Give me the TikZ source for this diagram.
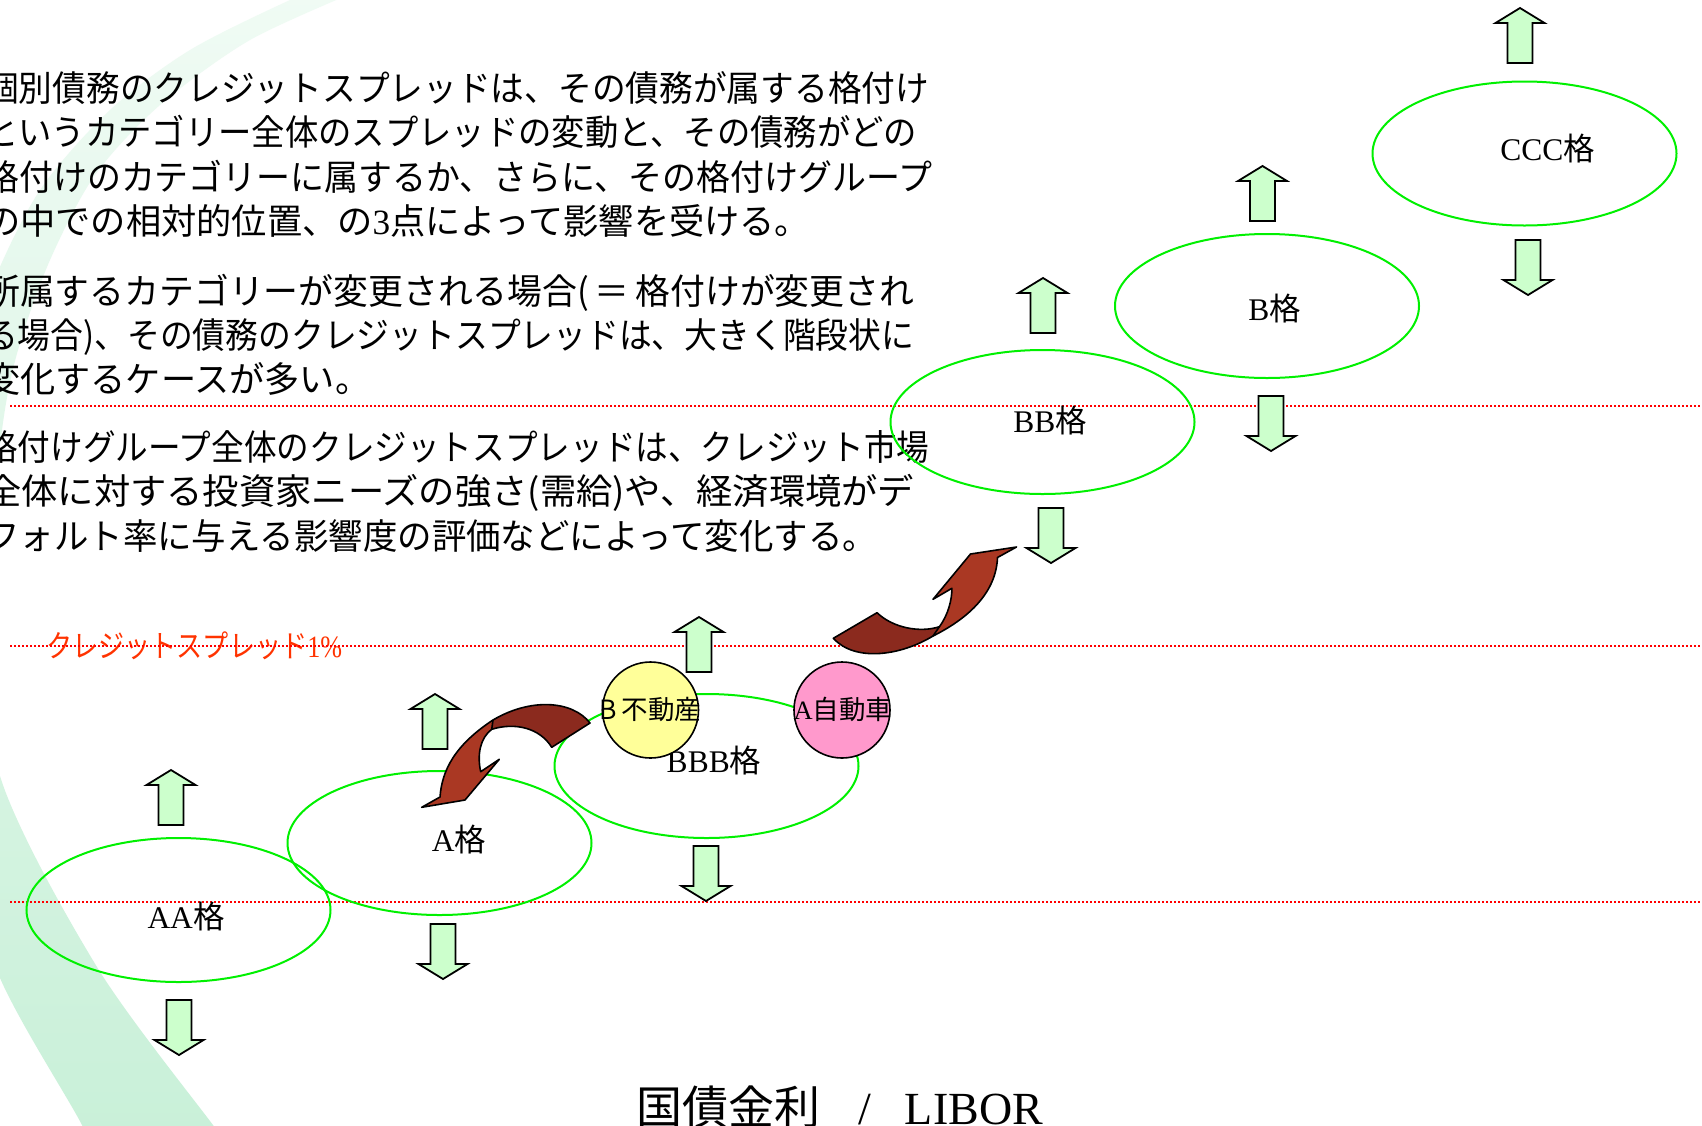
\documentclass[tikz,border=0pt]{standalone}
\usepackage{graphicx}
\usepackage{fontspec}
\setmainfont{Liberation Serif}
\newfontfamily\jp{Noto Sans CJK JP}
\usetikzlibrary{shapes.geometric}
\definecolor{ellgreen}{HTML}{00F000}
\definecolor{arrfill}{HTML}{CCFFCC}
\definecolor{dotred}{HTML}{FF0000}
\definecolor{lblred}{HTML}{FF3300}
\definecolor{yel}{HTML}{FFFF99}
\definecolor{pnk}{HTML}{FF99CC}
\definecolor{darkred}{HTML}{8B2A1E}
\definecolor{litred}{HTML}{AA3823}
\definecolor{bandtop}{HTML}{F0FBF4}
\definecolor{bandmid}{HTML}{DDF6E6}
\definecolor{bandbot}{HTML}{C8F0D8}
\begin{document}
\begin{tikzpicture}[x=1pt,y=-1pt,
  desc/.style={anchor=base west, inner sep=0pt, font=\fontsize{35.5pt}{44pt}\selectfont\jp},
  grade/.style={ellipse, draw=ellgreen, line width=2pt, minimum width=304pt, minimum height=144pt, inner sep=0pt},
  gradelbl/.style={anchor=base, inner sep=0pt, font=\fontsize{31.5pt}{36pt}\selectfont},
  reddot/.style={draw=dotred, line width=1.5pt, dash pattern=on 1.5pt off 2.5pt},
  blk/.style={fill=arrfill, draw=black, line width=1.8pt, line join=miter},
  firm/.style={circle, draw=black, line width=1.6pt, minimum size=96pt, inner sep=0pt},
  firmlbl/.style={inner sep=0pt, font=\fontsize{26.5pt}{30pt}\selectfont},
  curvarr/.style={draw=black, line width=1.6pt, line join=round},
  uparr/.pic={\path[blk] (0,0) -- (24.5,15) -- (12.5,15) -- (12.5,55) -- (-12.5,55) -- (-12.5,15) -- (-24.5,15) -- cycle;},
  dnarr/.pic={\path[blk] (0,0) -- (24.5,-15) -- (12.5,-15) -- (12.5,-55) -- (-12.5,-55) -- (-12.5,-15) -- (-24.5,-15) -- cycle;}
]
\useasboundingbox (0,0) rectangle (1702,1125);
\fill[white] (0,0) rectangle (1702,1125);

% background band
\begin{scope}
\clip (0,0) rectangle (1702,1125);
\shade[top color=bandtop, middle color=bandmid, bottom color=bandbot]
  plot[smooth] coordinates {(360,-10) (250,40) (160,105) (95,175) (50,260) (18,350) (2,430) (-15,600) (0,776) (97,967) (213,1125) (245,1165)}
  -- plot[smooth] coordinates {(95,1165) (82,1125) (0,978) (-60,800) (-80,600) (-55,420) (-10,290) (40,190) (110,110) (190,50) (290,0) (320,-10)}
  -- cycle;
\end{scope}

% description text
\node[desc] (p11) at (-15,101.5) {\resizebox{944pt}{\height}{個別債務のクレジットスプレッドは、その債務が属する格付け}};
\node[desc] (p12) at (-15,145.8) {\resizebox{932pt}{\height}{というカテゴリー全体のスプレッドの変動と、その債務がどの}};
\node[desc] (p13) at (-15,190.1) {\resizebox{947pt}{\height}{格付けのカテゴリーに属するか、さらに、その格付けグループ}};
\node[desc] (p14) at (-15,234.4) {\resizebox{825pt}{\height}{の中での相対的位置、の{\rmfamily 3}点によって影響を受ける。}};
\node[desc] (p21) at (-15,304.5) {\resizebox{929pt}{\height}{所属するカテゴリーが変更される場合(\,＝\,格付けが変更され}};
\node[desc] (p22) at (-15,348.5) {\resizebox{929pt}{\height}{る場合)、その債務のクレジットスプレッドは、大きく階段状に}};
\node[desc] (p23) at (-15,392.5) {\resizebox{385pt}{\height}{変化するケースが多い。}};
\node[desc] (p31) at (-15,460.5) {\resizebox{944pt}{\height}{格付けグループ全体のクレジットスプレッドは、クレジット市場}};
\node[desc] (p32) at (-15,504.8) {\resizebox{929pt}{\height}{全体に対する投資家ニーズの強さ(需給)や、経済環境がデ}};
\node[desc] (p33) at (-15,549) {\resizebox{892pt}{\height}{フォルト率に与える影響度の評価などによって変化する。}};

% red label
\node[anchor=base west, inner sep=0pt, text=lblred, font=\fontsize{31pt}{34pt}\selectfont] (cs) at (46,657) {\resizebox{296pt}{\height}{{\jp クレジットスプレッド}1\%}};

% dotted lines
\coordinate (d1a) at (10,406); \coordinate (d1b) at (1702,406);
\coordinate (d2a) at (10,646); \coordinate (d2b) at (1702,646);
\coordinate (d3a) at (10,902); \coordinate (d3b) at (1702,902);
\draw[reddot] (d1a) -- (d1b);
\draw[reddot] (d2a) -- (d2b);
\draw[reddot] (d3a) -- (d3b);

% rating ellipses
\node[grade] (aa) at (178.5,910) {};
\node[grade] (a) at (439.5,843) {};
\node[grade] (bbb) at (706.5,766) {};
\node[grade] (bb) at (1042.5,422) {};
\node[grade] (b) at (1267,306) {};
\node[grade] (ccc) at (1524.5,153.5) {};
\node[gradelbl] (aal) at (186,928) {AA{\jp 格}};
\node[gradelbl] (al) at (459,851.5) {A{\jp 格}};
\node[gradelbl] (bbbl) at (714,772.7) {BBB{\jp 格}};
\node[gradelbl] (bbl) at (1050,432) {BB{\jp 格}};
\node[gradelbl] (bl) at (1274.5,320) {B{\jp 格}};
\node[gradelbl] (cccl) at (1547.5,160) {CCC{\jp 格}};

% block arrows
\pic at (171,770) {uparr};   \pic at (179,1055) {dnarr};
\pic at (435,694) {uparr};   \pic at (443,979) {dnarr};
\pic at (699,617) {uparr};   \pic at (706,901) {dnarr};
\pic at (1043,278) {uparr};  \pic at (1051,563) {dnarr};
\pic at (1262.5,166) {uparr};\pic at (1271,451) {dnarr};
\pic at (1520,8) {uparr};    \pic at (1528,295) {dnarr};

% firms
\node[firm, fill=yel] (re) at (650.5,710) {};
\node[firmlbl] (relbl) at (650.5,709) {{\jp B\,不動産}};
\node[firm, fill=pnk] (car) at (842,710) {};
\node[firmlbl] (carlbl) at (843,709) {A{\jp 自動車}};

% curved arrow 1 (BBB -> A)
\fill[litred] (590,723) .. controls (572,700) and (530,698) .. (493,720) .. controls (455,745) and (442,770) .. (440,797) -- (421.7,807.3) -- (465,800) -- (499.3,759.3) -- (480.7,771.7) .. controls (477,755) and (480,738) .. (491.7,729.3) .. controls (515,722) and (540,728) .. (551.7,747.3) -- cycle;
\fill[darkred] (590,723) .. controls (572,700) and (530,698) .. (493,720) -- (491.7,729.3) .. controls (515,722) and (540,728) .. (551.7,747.3) -- cycle;
\draw[curvarr] (590,723) .. controls (572,700) and (530,698) .. (493,720) .. controls (455,745) and (442,770) .. (440,797) -- (421.7,807.3) -- (465,800) -- (499.3,759.3) -- (480.7,771.7) .. controls (477,755) and (480,738) .. (491.7,729.3) .. controls (515,722) and (540,728) .. (551.7,747.3) -- cycle;
\draw[curvarr] (493,720) -- (491.7,729.3);

% curved arrow 2 (BBB -> BB)
\fill[litred] (833.3,638.3) -- (877,612.7) .. controls (893,628) and (920,633) .. (939.4,626.7) .. controls (948,615) and (952,600) .. (951.9,588.3) -- (933,599.3) -- (970.5,554) -- (1016.5,547) -- (997.5,557.5) .. controls (996,595) and (965,620) .. (933,636) .. controls (900,656) and (855,662) .. (833.3,638.3) -- cycle;
\fill[darkred] (833.3,638.3) -- (877,612.7) .. controls (893,628) and (920,633) .. (939.4,626.7) -- (933,636) .. controls (900,656) and (855,662) .. (833.3,638.3) -- cycle;
\draw[curvarr] (833.3,638.3) -- (877,612.7) .. controls (893,628) and (920,633) .. (939.4,626.7) .. controls (948,615) and (952,600) .. (951.9,588.3) -- (933,599.3) -- (970.5,554) -- (1016.5,547) -- (997.5,557.5) .. controls (996,595) and (965,620) .. (933,636) .. controls (900,656) and (855,662) .. (833.3,638.3) -- cycle;
\draw[curvarr] (939.4,626.7) -- (933,636);

% footer
\node[anchor=base west, inner sep=0pt, font=\fontsize{46pt}{50pt}\selectfont] (ft) at (636,1124) {{\jp 国債金利}\hspace{38pt}/\hspace{34pt}LIBOR};
\end{tikzpicture}
\end{document}
